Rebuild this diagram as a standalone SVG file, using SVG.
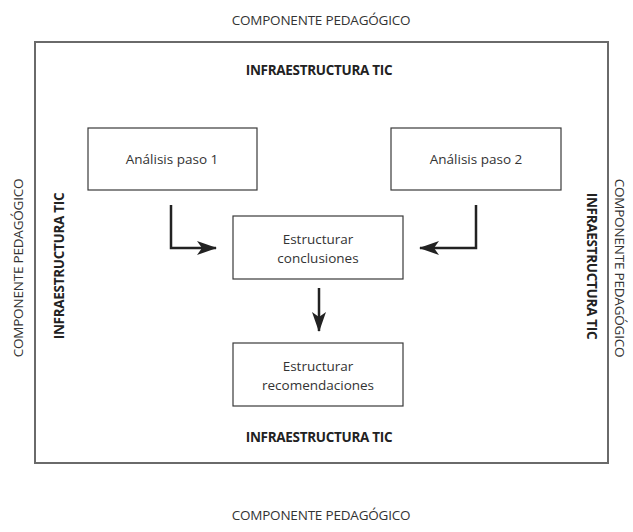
<svg xmlns="http://www.w3.org/2000/svg" width="633" height="532" viewBox="0 0 633 532">
  <style>
    .frame { fill: none; stroke: #6a6a6a; stroke-width: 2; }
    .box { fill: #fff; stroke: #3a3a3a; stroke-width: 1.2; }
    .outer { font-family: "Open Sans", "Noto Sans", sans-serif; font-size: 13.5px; fill: #333; text-anchor: middle; letter-spacing: -0.2px; }
    .infra { font-family: "Open Sans", "Noto Sans", sans-serif; font-size: 13.5px; font-weight: bold; fill: #222; text-anchor: middle; letter-spacing: -0.3px; }
    .label { font-family: "Open Sans", "Noto Sans", sans-serif; font-size: 13.5px; fill: #333; text-anchor: middle; }
    .link { fill: none; stroke: #222; stroke-width: 2.5; }
  </style>
  <defs>
    <marker id="head" viewBox="0 0 20 14" refX="19" refY="7" markerWidth="20" markerHeight="14" markerUnits="userSpaceOnUse" orient="auto">
      <path d="M0,0 L20,7 L0,14 L5,7 Z" fill="#222"/>
    </marker>
  </defs>
  <rect width="633" height="532" fill="#fff"/>

  <!-- pedagogical component frame -->
  <g id="frame">
    <rect class="frame" x="35" y="42" width="573" height="421"/>
    <text class="outer" x="321" y="25">COMPONENTE PEDAGÓGICO</text>
    <text class="outer" x="321" y="520">COMPONENTE PEDAGÓGICO</text>
    <text class="outer" transform="translate(23,268) rotate(-90)">COMPONENTE PEDAGÓGICO</text>
    <text class="outer" transform="translate(615,268) rotate(90)">COMPONENTE PEDAGÓGICO</text>
  </g>

  <!-- ICT infrastructure labels -->
  <g id="infra">
    <text class="infra" x="319" y="75">INFRAESTRUCTURA TIC</text>
    <text class="infra" x="319" y="442">INFRAESTRUCTURA TIC</text>
    <text class="infra" transform="translate(64,266) rotate(-90)">INFRAESTRUCTURA TIC</text>
    <text class="infra" transform="translate(587,266) rotate(90)">INFRAESTRUCTURA TIC</text>
  </g>

  <g id="paso1">
    <rect class="box" x="88" y="128" width="169" height="62"/>
    <text class="label" x="172" y="164">Análisis paso 1</text>
  </g>
  <g id="paso2">
    <rect class="box" x="391" y="128" width="170" height="62"/>
    <text class="label" x="476" y="164">Análisis paso 2</text>
  </g>
  <g id="conclusiones">
    <rect class="box" x="233" y="216" width="170" height="63"/>
    <text class="label" x="318" y="244">Estructurar</text>
    <text class="label" x="318" y="263">conclusiones</text>
  </g>
  <g id="recomendaciones">
    <rect class="box" x="233" y="343" width="170" height="63"/>
    <text class="label" x="318" y="371">Estructurar</text>
    <text class="label" x="318" y="390">recomendaciones</text>
  </g>

  <g id="connectors">
    <path class="link" d="M171,205 V248 H216" marker-end="url(#head)"/>
    <path class="link" d="M476,205 V248 H420" marker-end="url(#head)"/>
    <path class="link" d="M319,288 V331" marker-end="url(#head)"/>
  </g>
</svg>
